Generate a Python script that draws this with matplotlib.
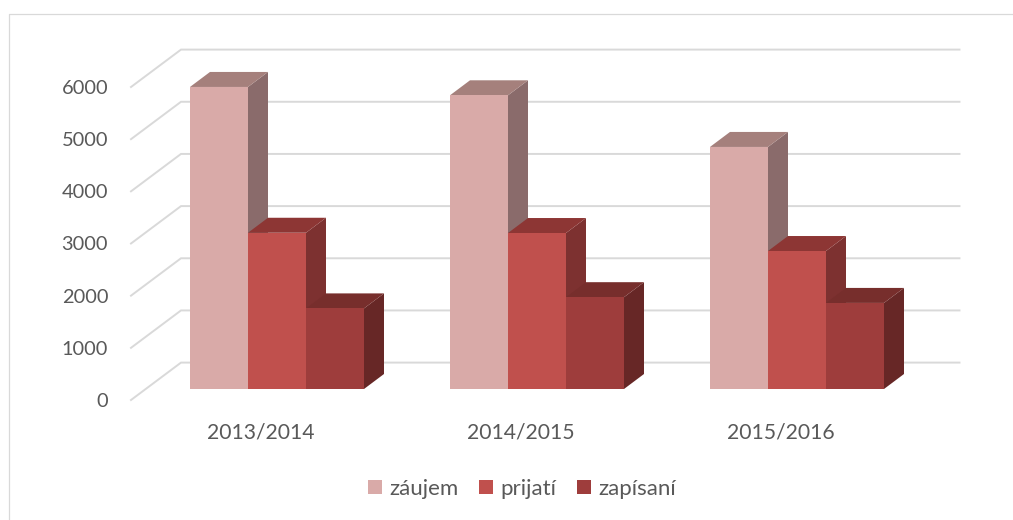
import matplotlib
matplotlib.use("Agg")
import matplotlib.pyplot as plt
from matplotlib.lines import Line2D
from matplotlib.patches import Patch, Polygon

plt.rcParams['font.family'] = ['Lato', 'DejaVu Sans']

categories = ['2013/2014', '2014/2015', '2015/2016']
series_names = ['záujem', 'prijatí', 'zapísaní']
zaujem = [5790, 5630, 4640]
prijati = [2995, 2990, 2645]
zapisani = [1545, 1760, 1650]
y_ticks = [0, 1000, 2000, 3000, 4000, 5000, 6000]

front_colors = ['#D9AAA8', '#C0504D', '#9E3D3C']
side_colors = ['#8A6B6B', '#7D3130', '#672726']
top_colors = ['#A5807C', '#8D3634', '#772E2C']
grid_color = '#D9D9D9'
text_color = '#595959'

W, H = 1013, 520
fig = plt.figure(figsize=(W / 100, H / 100), dpi=100, facecolor='white')
# axes = front plane of the 3-D box
ax = fig.add_axes([131 / W, (H - 400) / H, 780 / W, 313 / H])
ax.patch.set_alpha(0)
ax.set_xlim(-0.5, 2.5)
ax.set_ylim(0, 6000)
for s in ax.spines.values():
    s.set_visible(False)

px_x = 3 / 780           # data units per pixel, x
px_y = 6000 / 313        # data units per pixel, y

wall_dx, wall_dy = 50 * px_x, 37.4 * px_y
front_dx, front_dy = 16 * px_x, 11 * px_y
depth_dx, depth_dy = 20 * px_x, 15 * px_y
bar_w = 58 * px_x

# gridlines on the side and back walls
for v in y_ticks:
    ax.plot([-0.5, -0.5 + wall_dx, 2.5 + wall_dx - 1.5 * px_x],
            [v, v + wall_dy, v + wall_dy],
            color=grid_color, lw=1.4, clip_on=False, zorder=1,
            solid_joinstyle='miter')

# bars
for s, vals in enumerate([zaujem, prijati, zapisani]):
    for c, v in enumerate(vals):
        x0 = c + front_dx + (s - 1.5) * bar_w
        x1 = x0 + bar_w
        y0 = front_dy
        y1 = front_dy + v
        z = 3 + s
        ax.add_patch(Polygon([(x1, y0), (x1 + depth_dx, y0 + depth_dy),
                              (x1 + depth_dx, y1 + depth_dy), (x1, y1)],
                             closed=True, fc=side_colors[s], ec='none',
                             clip_on=False, zorder=z))
        ax.add_patch(Polygon([(x0, y1), (x1, y1), (x1 + depth_dx, y1 + depth_dy),
                              (x0 + depth_dx, y1 + depth_dy)],
                             closed=True, fc=top_colors[s], ec='none',
                             clip_on=False, zorder=z))
        ax.add_patch(Polygon([(x0, y0), (x1, y0), (x1, y1), (x0, y1)],
                             closed=True, fc=front_colors[s], ec='none',
                             clip_on=False, zorder=z + 0.5))

ax.set_yticks(y_ticks)
ax.set_xticks(range(len(categories)))
ax.set_xticklabels(categories)
ax.tick_params(axis='y', length=0, pad=16.5, labelsize=14.4, labelcolor=text_color)
ax.tick_params(axis='x', length=0, pad=16, labelsize=15.2, labelcolor=text_color)

# legend
handles = [Patch(fc=c, ec='none', label=n) for c, n in zip(front_colors, series_names)]
fig.legend(handles=handles, loc='center', bbox_to_anchor=(522 / W, (H - 489) / H),
           ncol=3, frameon=False, fontsize=16, labelcolor=text_color,
           handlelength=0.63, handleheight=0.63, handletextpad=0.3,
           columnspacing=0.95, borderpad=0)

# chart area border (open at right and bottom)
fig.add_artist(Line2D([8.5 / W, 8.5 / W, 1], [0, (H - 13.5) / H, (H - 13.5) / H],
                      transform=fig.transFigure, color=grid_color, lw=0.9))

fig.savefig('out.png', dpi=100)
